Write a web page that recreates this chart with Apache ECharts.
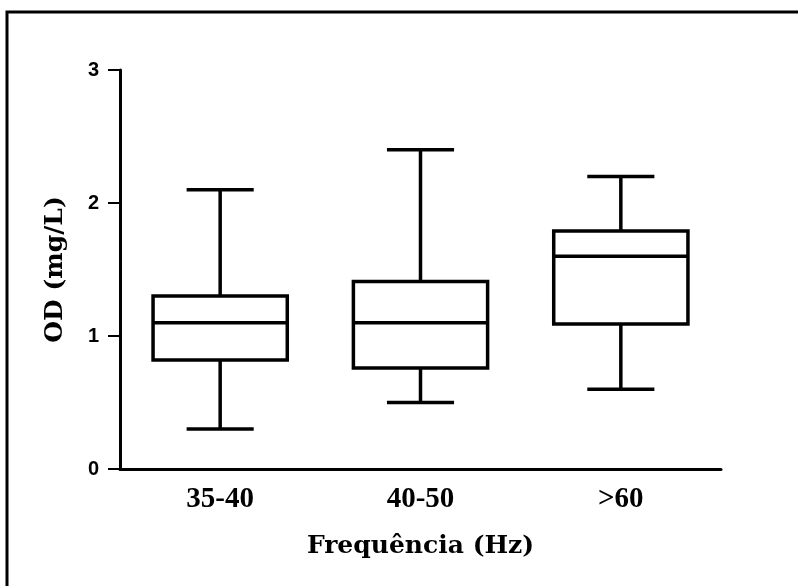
<!DOCTYPE html>
<html>
<head>
<meta charset="utf-8">
<script src="https://cdn.jsdelivr.net/npm/echarts@6/dist/echarts.min.js"></script>
<style>
html, body { margin: 0; padding: 0; background: #fff; }
#container { width: 798px; height: 586px; }
</style>
</head>
<body>
<div id="container"></div>
<script>
// groups on the x axis
var categories = ['35-40', '40-50', '>60'];
// min, q1, median, q3, max for each group
var mins    = [0.30, 0.50, 0.60];
var q1s     = [0.82, 0.76, 1.09];
var medians = [1.10, 1.10, 1.60];
var q3s     = [1.30, 1.41, 1.79];
var maxs    = [2.10, 2.40, 2.20];
var yTicks  = [0, 1, 2, 3];

var boxData = categories.map(function (c, i) {
    return [i, mins[i], q1s[i], medians[i], q3s[i], maxs[i]];
});

function renderBox(params, api) {
    var x = api.value(0);
    var pMin = api.coord([x, api.value(1)]);
    var pQ1 = api.coord([x, api.value(2)]);
    var pMed = api.coord([x, api.value(3)]);
    var pQ3 = api.coord([x, api.value(4)]);
    var pMax = api.coord([x, api.value(5)]);
    var band = api.size([1, 0])[0];
    var hw = band * 0.335;
    var cw = hw / 2;
    var cx = pMed[0];
    var st = { stroke: '#000', lineWidth: 3.5, fill: null };
    return {
        type: 'group',
        children: [
            { type: 'rect', shape: { x: cx - hw, y: pQ3[1], width: hw * 2, height: pQ1[1] - pQ3[1] }, style: { stroke: '#000', lineWidth: 3.5, fill: '#fff' } },
            { type: 'line', shape: { x1: cx - hw, y1: pMed[1], x2: cx + hw, y2: pMed[1] }, style: st },
            { type: 'line', shape: { x1: cx, y1: pQ3[1], x2: cx, y2: pMax[1] }, style: st },
            { type: 'line', shape: { x1: cx, y1: pQ1[1], x2: cx, y2: pMin[1] }, style: st },
            { type: 'line', shape: { x1: cx - cw, y1: pMax[1], x2: cx + cw, y2: pMax[1] }, style: st },
            { type: 'line', shape: { x1: cx - cw, y1: pMin[1], x2: cx + cw, y2: pMin[1] }, style: st }
        ]
    };
}

var myChart = echarts.init(document.getElementById('container'));
var option = {
    backgroundColor: '#fff',
    animation: false,
    graphic: [{
        type: 'rect',
        shape: { x: 7, y: 12, width: 820, height: 600 },
        style: { stroke: '#000', lineWidth: 3, fill: null },
        silent: true
    }],
    grid: { left: 120, right: 77, top: 70, bottom: 117 },
    xAxis: {
        type: 'category',
        data: categories,
        boundaryGap: true,
        name: 'Frequência (Hz)',
        nameLocation: 'middle',
        nameGap: 65,
        nameTextStyle: { fontFamily: 'DejaVu Serif', fontWeight: 'bold', fontSize: 25, color: '#000' },
        axisLine: { lineStyle: { color: '#000', width: 3 } },
        axisTick: { alignWithLabel: true, length: 9, lineStyle: { color: '#000', width: 2 } },
        axisLabel: { fontFamily: 'Liberation Serif', fontWeight: 'bold', fontSize: 29, color: '#000', margin: 16 },
        splitLine: { show: false }
    },
    yAxis: {
        type: 'value',
        min: 0,
        max: 3,
        interval: 1,
        name: 'OD (mg/L)',
        nameLocation: 'middle',
        nameGap: 52,
        nameTextStyle: { fontFamily: 'DejaVu Serif', fontWeight: 'bold', fontSize: 25, color: '#000' },
        axisLine: { show: true, lineStyle: { color: '#000', width: 3 } },
        axisTick: { show: true, length: 12, lineStyle: { color: '#000', width: 2 } },
        axisLabel: {
            fontFamily: 'Liberation Sans', fontWeight: 'bold', fontSize: 20, color: '#000', margin: 21,
            formatter: function (v) { return yTicks.indexOf(v) >= 0 ? String(v) : ''; }
        },
        splitLine: { show: false }
    },
    series: [{
        type: 'custom',
        renderItem: renderBox,
        encode: { x: 0, y: [1, 2, 3, 4, 5] },
        data: boxData
    }]
};
myChart.setOption(option);
</script>
</body>
</html>
